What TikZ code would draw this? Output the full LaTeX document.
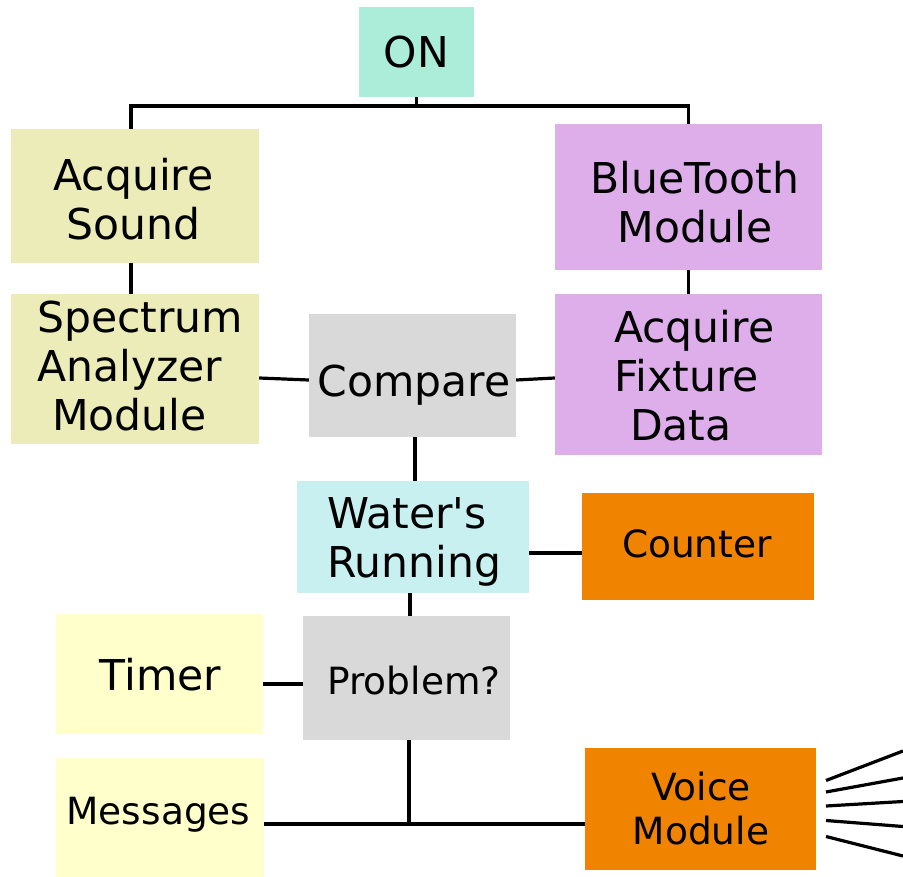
\documentclass[tikz,border=0pt]{standalone}
\usepackage{fontspec}
\setmainfont{DejaVu Sans}
\newfontfamily\dvs{DejaVu Sans}
\definecolor{cOn}{RGB}{171,237,216}
\definecolor{cOlive}{RGB}{236,236,185}
\definecolor{cLav}{RGB}{222,174,235}
\definecolor{cGray}{RGB}{217,217,217}
\definecolor{cCyan}{RGB}{200,240,240}
\definecolor{cOrange}{RGB}{240,131,0}
\definecolor{cYellow}{RGB}{255,255,204}
\tikzset{
  blk/.style={rectangle, inner sep=0pt, draw=none},
  big/.style={inner sep=0pt, font=\dvs\fontsize{42.5pt}{49pt}\selectfont},
  small/.style={inner sep=0pt, font=\dvs\fontsize{37.5pt}{44pt}\selectfont},
  conn/.style={line width=3.2pt, black},
}
\begin{document}
\begin{tikzpicture}[x=1pt,y=-1pt]
\useasboundingbox (0,0) rectangle (903,877);
% boxes
\node[blk, fill=cOn, minimum width=115pt, minimum height=90pt] (on) at (416.5,52) {};
\node[blk, fill=cOlive, minimum width=248pt, minimum height=134pt] (as) at (135,196) {};
\node[blk, fill=cLav, minimum width=267pt, minimum height=146pt] (bt) at (688.5,197) {};
\node[blk, fill=cOlive, minimum width=248pt, minimum height=150pt] (sp) at (135,369) {};
\node[blk, fill=cLav, minimum width=267pt, minimum height=161pt] (fx) at (688.5,374.5) {};
\node[blk, fill=cGray, minimum width=207pt, minimum height=123pt] (cmp) at (412.5,375.5) {};
\node[blk, fill=cCyan, minimum width=232pt, minimum height=112pt] (wr) at (413,537) {};
\node[blk, fill=cOrange, minimum width=232pt, minimum height=107pt] (cnt) at (698,546.5) {};
\node[blk, fill=cGray, minimum width=207pt, minimum height=124pt] (pb) at (406.5,678) {};
\node[blk, fill=cYellow, minimum width=207pt, minimum height=120pt] (tm) at (159.5,674) {};
\node[blk, fill=cYellow, minimum width=208pt, minimum height=119pt] (ms) at (160,817.5) {};
\node[blk, fill=cOrange, minimum width=231pt, minimum height=122pt] (vm) at (700.5,809) {};
% texts
\node[big] (tOn) at (416.5,52.5) {ON};
\node[big, align=center] (tAs) at (133.5,199) {Acquire\\Sound};
\node[big, align=center] (tBt) at (695,202) {BlueTooth\\Module};
\node[big, align=left, anchor=west] (tSp) at (37,366.5) {Spectrum\\Analyzer\\\hspace*{15pt}Module};
\node[big, align=left, anchor=west] (tFx) at (614,375.5) {Acquire\\Fixture\\\hspace*{16pt}Data};
\node[big] (tCmp) at (414,385) {Compare};
\node[big, align=left, anchor=west] (tWr) at (327,542) {Water's\\Running};
\node[small] (tCnt) at (697,544) {Counter};
\node[small] (tPb) at (414,680.5) {Problem?};
\node[big] (tTm) at (160.5,674.5) {Timer};
\node[small] (tMs) at (158.5,814.5) {Messages};
\node[small, align=center] (tVm) at (701,809) {Voice\\Module};
% connectors
\coordinate (bar) at (417,106);
\draw[conn] (on.south) -- (on.south |- bar);
\draw[conn] ([xshift=-4pt]as.north) -- ([xshift=-4pt]as.north |- bar) -- (bt.north |- bar) -- (bt.north);
\draw[conn] ([xshift=-4pt]as.south) -- ([xshift=-4pt]sp.north);
\draw[conn] (bt.south) -- (fx.north);
\draw[conn] ([yshift=-9pt]sp.east) -- ([yshift=-4.5pt]cmp.west);
\draw[conn] ([yshift=-4.5pt]cmp.east) -- ([yshift=-3.5pt]fx.west);
\draw[conn] ([xshift=2.5pt]cmp.south) -- ([xshift=2pt]wr.north);
\draw[conn] ([yshift=-16pt]wr.east) -- ([yshift=-6.5pt]cnt.west);
\draw[conn] ([xshift=-3pt]wr.south) -- ([xshift=3.5pt]pb.north);
\draw[conn] ([yshift=-10pt]tm.east) -- ([yshift=-6pt]pb.west);
\coordinate (jn) at (409,824);
\draw[conn] ([xshift=2.5pt]pb.south) -- (jn);
\draw[conn] ([yshift=-6.5pt]ms.east) -- ([yshift=-15pt]vm.west);
% speaker lines
\coordinate (s1a) at (826,780.5); \coordinate (s1b) at (903,751);
\coordinate (s2a) at (826,792); \coordinate (s2b) at (903,778);
\coordinate (s3a) at (826,806); \coordinate (s3b) at (903,801.5);
\coordinate (s4a) at (826,820.5); \coordinate (s4b) at (903,826.5);
\coordinate (s5a) at (826,836.5); \coordinate (s5b) at (903,856);
\draw[conn] (s1a) -- (s1b);
\draw[conn] (s2a) -- (s2b);
\draw[conn] (s3a) -- (s3b);
\draw[conn] (s4a) -- (s4b);
\draw[conn] (s5a) -- (s5b);
\end{tikzpicture}
\end{document}
